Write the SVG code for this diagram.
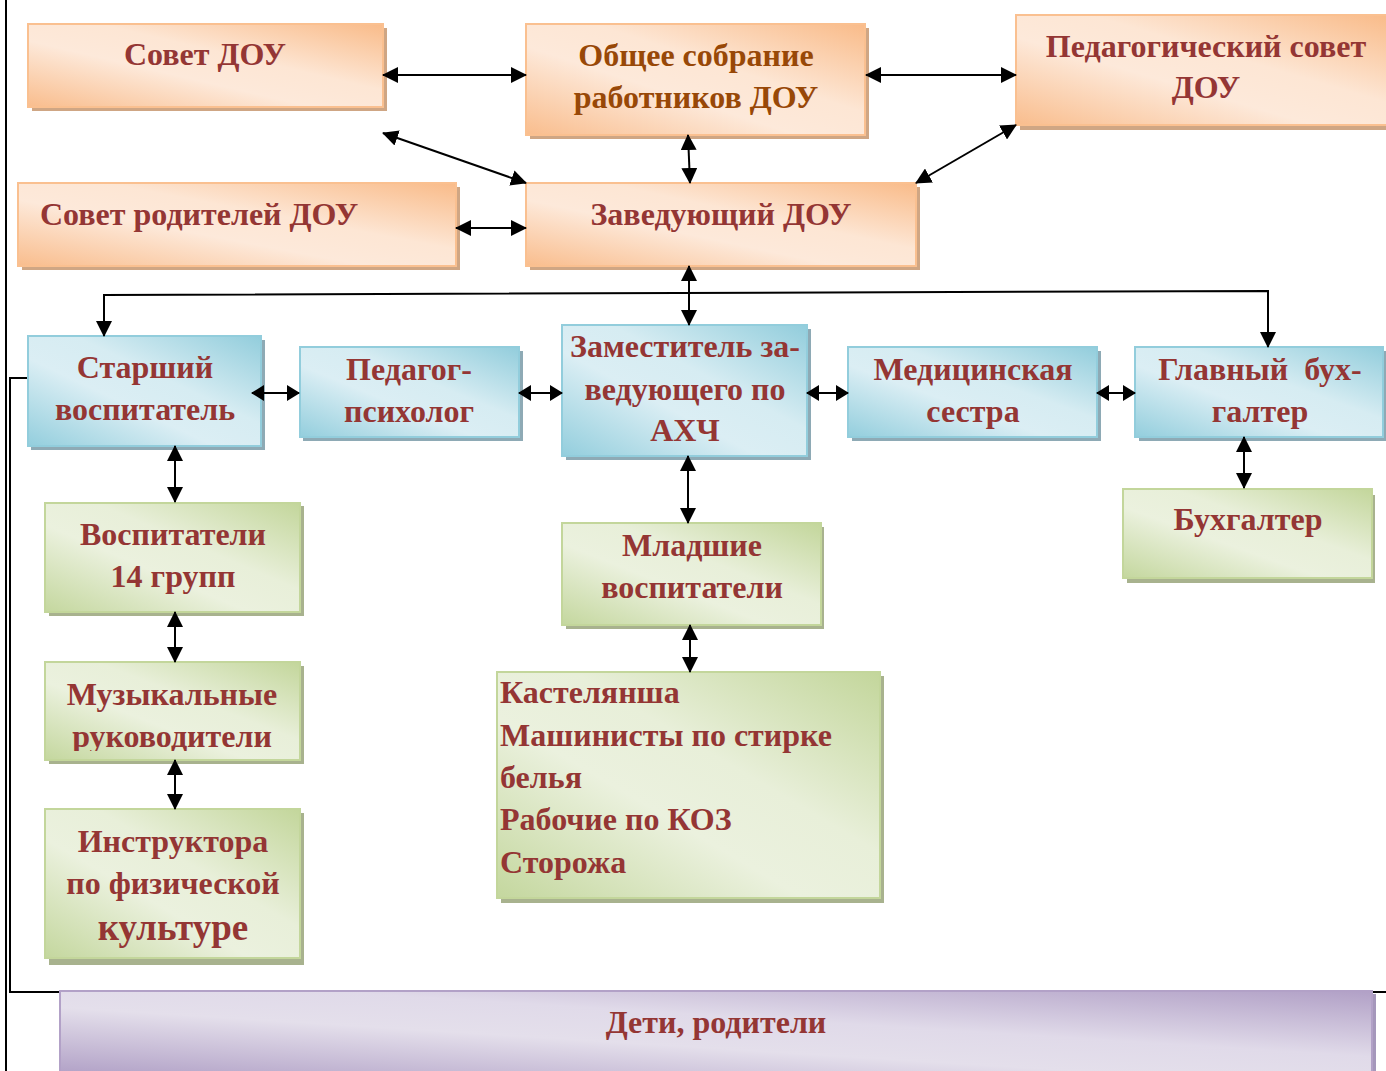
<svg xmlns="http://www.w3.org/2000/svg" width="1386" height="1071" viewBox="0 0 1386 1071">
<defs>
<linearGradient id="gO" x1="0" y1="1" x2="1" y2="0"><stop offset="0" stop-color="#f9bd8d"/><stop offset="0.4" stop-color="#fde9da"/><stop offset="0.6" stop-color="#fde6d4"/><stop offset="1" stop-color="#f9bb89"/></linearGradient>
<linearGradient id="gB" x1="0" y1="1" x2="1" y2="0"><stop offset="0" stop-color="#93cedd"/><stop offset="0.4" stop-color="#dbeef4"/><stop offset="0.6" stop-color="#d6ecf2"/><stop offset="1" stop-color="#92cddc"/></linearGradient>
<linearGradient id="gG" x1="0" y1="1" x2="1" y2="0"><stop offset="0" stop-color="#c4d79e"/><stop offset="0.4" stop-color="#ebf1de"/><stop offset="0.6" stop-color="#e8efd9"/><stop offset="1" stop-color="#c3d69b"/></linearGradient>
<linearGradient id="gP" x1="0" y1="1" x2="1" y2="0"><stop offset="0" stop-color="#b2a2c7"/><stop offset="0.4" stop-color="#e4dfeb"/><stop offset="0.6" stop-color="#e0dae9"/><stop offset="1" stop-color="#b1a0c6"/></linearGradient>
<marker id="ah" viewBox="0 0 16 16" refX="15" refY="8" markerWidth="16" markerHeight="16" markerUnits="userSpaceOnUse" orient="auto-start-reverse"><path d="M0,0 L16,8 L0,16 z" fill="#000"/></marker>
<marker id="as" viewBox="0 0 13 16" refX="12" refY="8" markerWidth="13" markerHeight="16" markerUnits="userSpaceOnUse" orient="auto-start-reverse"><path d="M0,0 L13,8 L0,16 z" fill="#000"/></marker>
<clipPath id="cMus"><rect x="45" y="662" width="255" height="89"/></clipPath>
</defs>
<style>
.t{font-family:"Liberation Serif","Times New Roman",serif;font-weight:bold;font-size:32px;fill:#943634}
.c{text-anchor:middle}
.br{fill:#984807}
.o{fill:url(#gO);stroke:#fac090;stroke-width:2}
.b{fill:url(#gB);stroke:#92cddc;stroke-width:2}
.g{fill:url(#gG);stroke:#c3d69b;stroke-width:2}
.p{fill:url(#gP);stroke:#b2a1c7;stroke-width:2}
.so{fill:#cfa684}
.sb{fill:#8eaab5}
.sg{fill:#a8b28e}
.sp{fill:#a597bb}
.ln{fill:none;stroke:#000;stroke-width:2}
.ar{fill:none;stroke:#000;stroke-width:2;marker-start:url(#ah);marker-end:url(#ah)}
.ars{fill:none;stroke:#000;stroke-width:2;marker-start:url(#as);marker-end:url(#as)}
</style>
<g id="frame">
<line class="ln" x1="6" y1="0" x2="6" y2="1071"/>
<polyline class="ln" points="29,378 10,378 10,992 1386,992"/>
<line class="ln" x1="1383" y1="393" x2="1386" y2="393"/>
</g>
<g id="sovet-dou">
<rect class="so" x="32" y="28" width="355" height="83"/>
<rect class="o" x="28" y="24" width="355" height="83"/>
<text class="t c" x="205" y="65">Совет ДОУ</text>
</g>
<g id="obshee-sobranie">
<rect class="so" x="530" y="28" width="339" height="111"/>
<rect class="o" x="526" y="24" width="339" height="111"/>
<text class="t c br" x="696" y="66">Общее собрание</text>
<text class="t c br" x="696" y="108">работников ДОУ</text>
</g>
<g id="ped-sovet">
<rect class="so" x="1020" y="19" width="370" height="111"/>
<rect class="o" x="1016" y="15" width="372" height="110"/>
<text class="t c" x="1206" y="57">Педагогический совет</text>
<text class="t c" x="1206" y="98">ДОУ</text>
</g>
<g id="sovet-roditelei">
<rect class="so" x="22" y="187" width="438" height="83"/>
<rect class="o" x="18" y="183" width="438" height="83"/>
<text class="t" x="40" y="225">Совет родителей ДОУ</text>
</g>
<g id="zaveduyushiy">
<rect class="so" x="530" y="187" width="390" height="83"/>
<rect class="o" x="526" y="183" width="390" height="83"/>
<text class="t c" x="721" y="225">Заведующий ДОУ</text>
</g>
<g id="starshiy">
<rect class="sb" x="31" y="340" width="234" height="110"/>
<rect class="b" x="28" y="336" width="233" height="110"/>
<text class="t c" x="145" y="378">Старший</text>
<text class="t c" x="145" y="420">воспитатель</text>
</g>
<g id="psiholog">
<rect class="sb" x="303" y="351" width="220" height="90"/>
<rect class="b" x="300" y="347" width="219" height="90"/>
<text class="t c" x="409" y="380">Педагог-</text>
<text class="t c" x="409" y="422">психолог</text>
</g>
<g id="zamestitel">
<rect class="sb" x="566" y="329" width="245" height="131"/>
<rect class="b" x="562" y="325" width="245" height="131"/>
<text class="t c" x="685" y="357">Заместитель за-</text>
<text class="t c" x="685" y="400">ведующего по</text>
<text class="t c" x="685" y="441">АХЧ</text>
</g>
<g id="medsestra">
<rect class="sb" x="852" y="351" width="249" height="90"/>
<rect class="b" x="848" y="347" width="249" height="90"/>
<text class="t c" x="973" y="380">Медицинская</text>
<text class="t c" x="973" y="422">сестра</text>
</g>
<g id="glavbuh">
<rect class="sb" x="1139" y="351" width="247" height="90"/>
<rect class="b" x="1135" y="347" width="248" height="90"/>
<text class="t c" x="1260" y="380" xml:space="preserve">Главный  бух-</text>
<text class="t c" x="1260" y="422">галтер</text>
</g>
<g id="vospitateli">
<rect class="sg" x="49" y="506" width="255" height="110"/>
<rect class="g" x="45" y="503" width="255" height="109"/>
<text class="t c" x="173" y="545">Воспитатели</text>
<text class="t c" x="173" y="587">14 групп</text>
</g>
<g id="muzykalnye">
<rect class="sg" x="49" y="666" width="255" height="98"/>
<rect class="g" x="45" y="662" width="255" height="98"/>
<g clip-path="url(#cMus)">
<text class="t c" x="172" y="705">Музыкальные</text>
<text class="t c" x="172" y="747">руководители</text>
</g>
</g>
<g id="instruktora">
<rect class="sg" x="49" y="813" width="255" height="152"/>
<rect class="g" x="45" y="809" width="255" height="149"/>
<text class="t c" x="173" y="852">Инструктора</text>
<text class="t c" x="173" y="894">по физической</text>
<text class="t c" x="173" y="940" style="font-size:37px">культуре</text>
</g>
<g id="mladshie">
<rect class="sg" x="566" y="527" width="258" height="102"/>
<rect class="g" x="562" y="523" width="259" height="102"/>
<text class="t c" x="692" y="556">Младшие</text>
<text class="t c" x="692" y="598">воспитатели</text>
</g>
<g id="kastelyansha">
<rect class="sg" x="501" y="676" width="383" height="227"/>
<rect class="g" x="497" y="672" width="383" height="226"/>
<text class="t" x="500" y="703">Кастелянша</text>
<text class="t" x="500" y="746">Машинисты по стирке</text>
<text class="t" x="500" y="788">белья</text>
<text class="t" x="500" y="830">Рабочие по КОЗ</text>
<text class="t" x="500" y="873">Сторожа</text>
</g>
<g id="buhgalter">
<rect class="sg" x="1127" y="495" width="248" height="88"/>
<rect class="g" x="1123" y="489" width="249" height="89"/>
<text class="t c" x="1248" y="530">Бухгалтер</text>
</g>
<g id="deti">
<rect class="sp" x="64" y="994" width="1312" height="80"/>
<rect class="p" x="60" y="991" width="1312" height="82"/>
<text class="t c" x="716" y="1033">Дети, родители</text>
</g>
<g id="connectors">
<line class="ar" x1="383" y1="75" x2="526" y2="75"/>
<line class="ar" x1="866" y1="75" x2="1016" y2="75"/>
<line class="ar" x1="383" y1="133" x2="526" y2="183"/>
<line class="ar" x1="688" y1="135" x2="690" y2="183"/>
<line class="ar" x1="1016" y1="125" x2="916" y2="183"/>
<line class="ar" x1="456" y1="228" x2="526" y2="228"/>
<line class="ar" x1="689" y1="266" x2="689" y2="325"/>
<polyline class="ar" points="104,336 104,295 1268,291 1268,347"/>
<line class="ars" x1="252" y1="393" x2="299" y2="393"/>
<line class="ars" x1="519" y1="393" x2="562" y2="393"/>
<line class="ars" x1="807" y1="393" x2="848" y2="393"/>
<line class="ars" x1="1097" y1="393" x2="1135" y2="393"/>
<line class="ar" x1="175" y1="446" x2="175" y2="502"/>
<line class="ar" x1="175" y1="612" x2="175" y2="662"/>
<line class="ar" x1="175" y1="760" x2="175" y2="809"/>
<line class="ar" x1="688" y1="456" x2="688" y2="523"/>
<line class="ar" x1="690" y1="625" x2="690" y2="672"/>
<line class="ar" x1="1244" y1="437" x2="1244" y2="488"/>
</g>
</svg>
